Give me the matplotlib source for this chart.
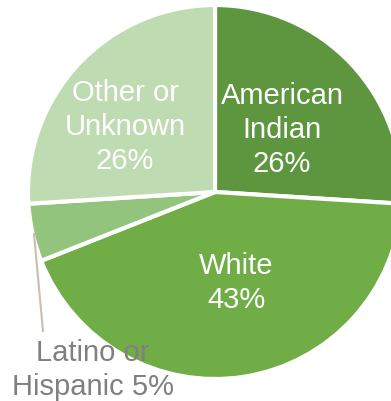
import matplotlib
matplotlib.use("Agg")
import matplotlib.pyplot as plt

categories = ["American Indian", "White", "Latino or Hispanic", "Other or Unknown"]
values = [26, 43, 5, 26]
colors = ["#5e963f", "#70ad47", "#93c47d", "#bfdbb1"]

W, H = 391, 402
cx, cy, R = 215, 193, 187

def d(px, py):
    return ((px - cx) / R, (cy - py) / R)

fig = plt.figure(figsize=(W / 100, H / 100), dpi=100)
ax = fig.add_axes([0, 0, 1, 1])
ax.pie(values, colors=colors, startangle=90, counterclock=False, radius=1,
       wedgeprops=dict(edgecolor="white", linewidth=3))
ax.set_aspect("auto")
ax.set_xlim(-cx / R, (W - cx) / R)
ax.set_ylim(-(H - cy) / R, cy / R)
ax.axis("off")

font = "Liberation Sans"
fs = 21
ax.text(*d(282, 130), "American\nIndian\n26%", ha="center", va="center",
        color="white", fontsize=fs, family=font, linespacing=1.26)
ax.text(*d(125, 127), "Other or\nUnknown\n26%", ha="center", va="center",
        color="white", fontsize=fs, family=font, linespacing=1.26)
ax.text(*d(236, 283), "White\n43%", ha="center", va="center",
        color="white", fontsize=fs, family=font, linespacing=1.26)
ax.text(*d(93, 370), "Latino or\nHispanic 5%", ha="center", va="center",
        color="#808080", fontsize=fs, family=font, linespacing=1.3)
p1, p2 = d(34, 235), d(43, 332)
ax.plot([p1[0], p2[0]], [p1[1], p2[1]], color="#c9bfae", lw=1.5)

fig.savefig("out.png", dpi=100)
